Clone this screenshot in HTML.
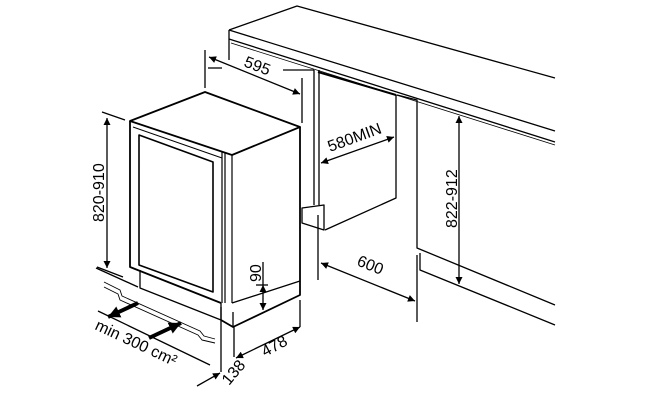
<!DOCTYPE html>
<html><head><meta charset="utf-8"><style>
html,body{margin:0;padding:0;background:#fff;width:650px;height:400px;overflow:hidden}
svg{display:block}
text{font-family:"Liberation Sans",Arial,sans-serif;font-size:16px;fill:#000}
</style></head><body>
<svg width="650" height="400" viewBox="0 0 650 400" xmlns="http://www.w3.org/2000/svg">
<defs>
<marker id="a" viewBox="0 0 10 10" refX="10" refY="5" markerWidth="9" markerHeight="7" orient="auto-start-reverse" markerUnits="userSpaceOnUse"><path d="M0,0L10,5L0,10z" fill="#000"/></marker>
<marker id="b" viewBox="0 0 10 10" refX="10" refY="5" markerWidth="12" markerHeight="12" orient="auto" markerUnits="userSpaceOnUse"><path d="M0,0L10,5L0,10z" fill="#000"/></marker>
</defs>
<g fill="none" stroke="#000" stroke-width="1.3" stroke-linejoin="round">
<path d="M229,30L297,6L555,78"/>
<path d="M229,30L555,131"/>
<path d="M229,30V60"/>
<path d="M229,39L555,142"/>
<path d="M231,43L555,145" stroke-width="0.8"/>
<path d="M314,70V205M319,70V205"/>
<path d="M283,70H314"/>
<path d="M302,208L324,205V230L302,223Z"/>
<path d="M396,95V198L325,230"/>
<path d="M318,72L396,95" stroke-width="2"/>
<path d="M397,95L417,100V248L555,305"/>
<path d="M420,253V270L555,325"/>
<path d="M318,215V280"/>
<path d="M417,255V322"/>
<path d="M321,263L415,301" marker-start="url(#a)" marker-end="url(#a)"/>
<path d="M321,163L394,137" marker-start="url(#a)" marker-end="url(#a)"/>
<path d="M459,116V284" marker-start="url(#a)" marker-end="url(#a)"/>
<path d="M205,92L300,127L232,155L130,121Z" stroke-width="1.8"/>
<path d="M130,121V267L221,303" stroke-width="1.8"/>
<path d="M133,127L222,158" stroke-width="1"/>
<path d="M222,152V303M225,153V303M232,155V303" stroke-width="1.2"/>
<path d="M300,127V295L233,327L221,320" stroke-width="1.8"/>
<path d="M221,303V320M233,312V327"/>
<path d="M232,303L300,281"/>
<path d="M139,135L213,162V292L139,265Z" stroke-width="1.6"/>
<path d="M140,270V288L221,320"/>
<path d="M102,112L125,120M97,267L123,277"/>
<path d="M107,118V268" marker-start="url(#a)" marker-end="url(#a)"/>
<path d="M205,50V88M302,78V123"/>
<path d="M208,68H222"/>
<path d="M209,57L300,94" marker-start="url(#a)" marker-end="url(#a)"/>
<path d="M263,262V285"/>
<path d="M263,285V310" marker-start="url(#a)" marker-end="url(#a)"/>
<path d="M256,285H268"/>
<path d="M221,307V372M234,327V357M300,300V327"/>
<path d="M236,358L300,327" marker-start="url(#a)" marker-end="url(#a)"/>
<path d="M197,386L220,373" marker-end="url(#a)"/>
<path d="M104,282L120,290L122,296L200,331L204,336L215,339" stroke-width="0.9"/>
<path d="M104,287L118,294L120,300L198,335L202,340L215,343" stroke-width="0.9"/>
<path d="M98,311L210,365"/>
<path d="M96,268L138,287"/>
<path d="M138,303L108,317" stroke-width="4" marker-end="url(#b)"/>
<path d="M149,338L181,323" stroke-width="4" marker-end="url(#b)"/>
</g>
<text transform="translate(243,66) rotate(21)">595</text>
<text transform="translate(330,152) rotate(-20)">580MIN</text>
<text transform="translate(356,265) rotate(22)">600</text>
<text transform="translate(457,228) rotate(-90)">822-912</text>
<text transform="translate(104,222) rotate(-90)">820-910</text>
<text transform="translate(261,282) rotate(-90)">90</text>
<text transform="translate(265,357) rotate(-28)">478</text>
<text transform="translate(229,386) rotate(-50)">138</text>
<text transform="translate(94,329) rotate(25)">min 300 cm²</text>
</svg>
</body></html>
